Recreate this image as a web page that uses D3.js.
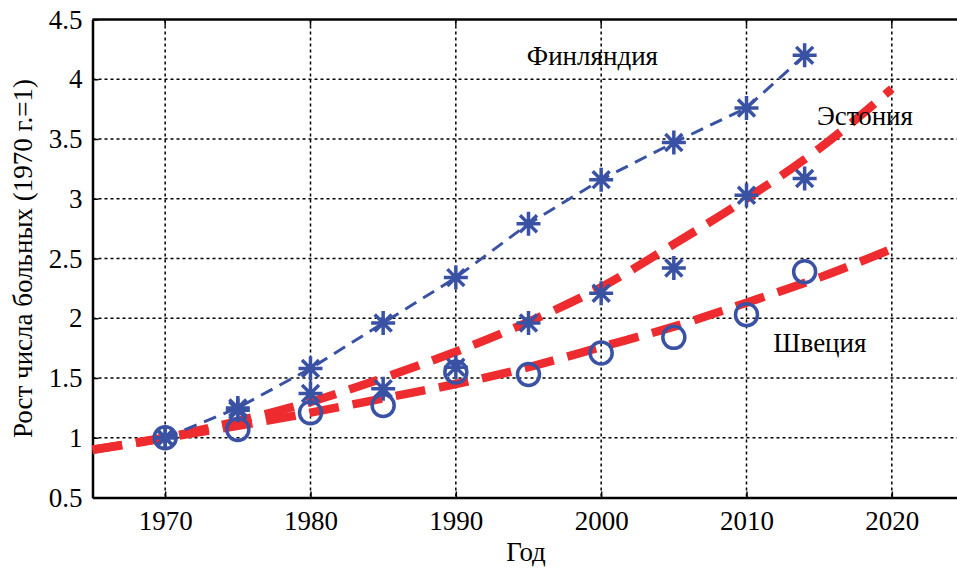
<!DOCTYPE html>
<html>
<head>
<meta charset="utf-8">
<script src="https://cdn.jsdelivr.net/npm/d3@7"></script>
<style>
  body { margin: 0; background: #fff; }
  svg text { font-family: "Liberation Serif", "Times New Roman", Times, serif; font-size: 27px; fill: #000; }
</style>
</head>
<body>
<svg width="957" height="569"></svg>
<script>
// measured years
var years = [1970, 1975, 1980, 1985, 1990, 1995, 2000, 2005, 2010, 2014];
var finland = [1.0, 1.25, 1.58, 1.96, 2.34, 2.79, 3.16, 3.47, 3.76, 4.2];
var estonia = [1.0, 1.23, 1.37, 1.41, 1.59, 1.96, 2.21, 2.42, 3.03, 3.17];
var sweden  = [1.0, 1.07, 1.21, 1.27, 1.55, 1.53, 1.71, 1.84, 2.03, 2.39];

// trend curves
var trendYears = [1965, 1970, 1975, 1980, 1985, 1990, 1995, 2000, 2005, 2010, 2015, 2020];
var estoniaTrend = [0.9, 1.0, 1.14, 1.30, 1.50, 1.72, 1.97, 2.26, 2.62, 3.0, 3.42, 3.92];
var swedenTrend  = [0.9, 1.0, 1.10, 1.21, 1.33, 1.45, 1.59, 1.76, 1.93, 2.13, 2.34, 2.58];

var xTicks = [1970, 1980, 1990, 2000, 2010, 2020];
var yTicks = [0.5, 1, 1.5, 2, 2.5, 3, 3.5, 4, 4.5];

var svg = d3.select("svg"),
    margin = {top: 19.5, left: 92.5},
    width = 872,
    height = 478,
    g = svg.append("g").attr("transform", "translate(" + margin.left + "," + margin.top + ")");

var blue = "#3a52a4", red = "#ee2b2e";

var x = d3.scaleLinear().domain([1965, 2025]).range([0, width]);
var y = d3.scaleLinear().domain([0.5, 4.5]).range([height, 0]);

// grid
g.append("g").selectAll("line").data(xTicks).enter().append("line")
    .attr("x1", d => x(d)).attr("x2", d => x(d))
    .attr("y1", 0).attr("y2", height)
    .attr("stroke", "#000").attr("stroke-width", 1.5).attr("stroke-dasharray", "3,3");
g.append("g").selectAll("line").data(yTicks.slice(1, -1)).enter().append("line")
    .attr("x1", 0).attr("x2", width)
    .attr("y1", d => y(d)).attr("y2", d => y(d))
    .attr("stroke", "#000").attr("stroke-width", 1.5).attr("stroke-dasharray", "3,3");

// axes
var xAxis = d3.axisBottom(x).tickValues(xTicks).tickSizeInner(-6).tickSizeOuter(0).tickPadding(13).tickFormat(d3.format("d"));
var yAxis = d3.axisLeft(y).tickValues(yTicks).tickSizeInner(-6).tickSizeOuter(0).tickPadding(10).tickFormat(d => String(d));

function styleAxis(a) {
    a.attr("font-family", null).attr("font-size", null);
    a.select(".domain").attr("stroke-width", 2.5);
    a.selectAll(".tick line").attr("stroke-width", 1.5);
}
g.append("g").attr("transform", "translate(0," + height + ")").call(xAxis).call(styleAxis);
g.append("g").call(yAxis).call(styleAxis);
g.append("line").attr("x1", 0).attr("x2", width).attr("y1", 0).attr("y2", 0)
    .attr("stroke", "#000").attr("stroke-width", 2.5);
g.append("g").selectAll("line").data(xTicks).enter().append("line")
    .attr("x1", d => x(d)).attr("x2", d => x(d)).attr("y1", 0).attr("y2", 6)
    .attr("stroke", "#000").attr("stroke-width", 1.5);

// trend lines
var line = d3.line().x(d => x(d[0])).y(d => y(d[1])).curve(d3.curveMonotoneX);
[estoniaTrend, swedenTrend].forEach(function(t) {
    g.append("path").datum(d3.zip(trendYears, t))
        .attr("d", line).attr("fill", "none")
        .attr("stroke", red).attr("stroke-width", 8.5).attr("stroke-dasharray", "30,14");
});

// Finland line
g.append("path").datum(d3.zip(years, finland))
    .attr("d", d3.line().x(d => x(d[0])).y(d => y(d[1])))
    .attr("fill", "none").attr("stroke", blue).attr("stroke-width", 3).attr("stroke-dasharray", "13,8");

// markers
var r = 12, k = r * Math.SQRT1_2;
var star = "M" + (-r) + ",0H" + r + "M0," + (-r) + "V" + r +
    "M" + (-k) + "," + (-k) + "L" + k + "," + k + "M" + (-k) + "," + k + "L" + k + "," + (-k);

[finland, estonia].forEach(function(s) {
    g.append("g").selectAll("path").data(d3.zip(years, s)).enter().append("path")
        .attr("transform", d => "translate(" + x(d[0]) + "," + y(d[1]) + ")")
        .attr("d", star).attr("stroke", blue).attr("stroke-width", 3.5).attr("fill", "none");
});
g.append("g").selectAll("circle").data(d3.zip(years, sweden)).enter().append("circle")
    .attr("cx", d => x(d[0])).attr("cy", d => y(d[1])).attr("r", 11)
    .attr("fill", "none").attr("stroke", blue).attr("stroke-width", 3.5);

// country labels
var labels = [
    {t: "Финляндия", x: 1999.4, v: 4.12},
    {t: "Эстония", x: 2018.15, v: 3.62},
    {t: "Швеция", x: 2015.05, v: 1.72}
];
g.append("g").selectAll("text").data(labels).enter().append("text")
    .attr("x", d => x(d.x)).attr("y", d => y(d.v))
    .attr("text-anchor", "middle").text(d => d.t);

// axis titles
svg.append("text").attr("x", 526).attr("y", 561)
    .attr("text-anchor", "middle").text("Год");
svg.append("text").attr("transform", "translate(32," + (margin.top + height / 2) + ") rotate(-90)")
    .attr("text-anchor", "middle").text("Рост числа больных (1970 г.=1)");
</script>
</body>
</html>
